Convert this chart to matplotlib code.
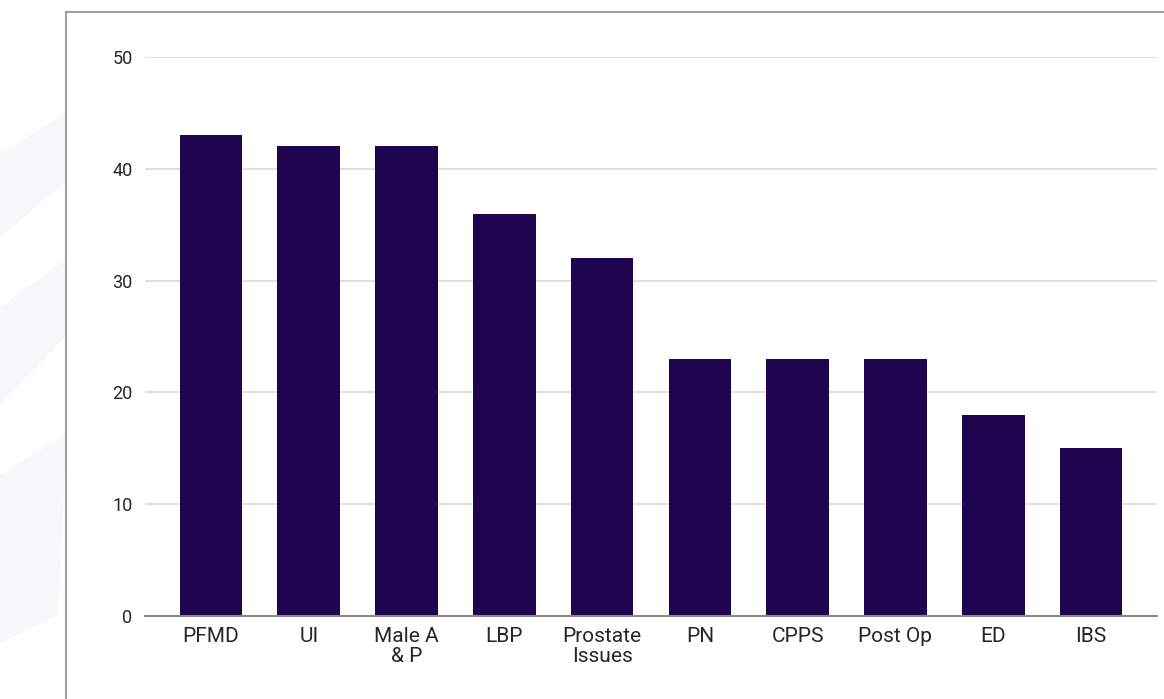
import numpy as np
import matplotlib.pyplot as plt
from matplotlib.lines import Line2D
from matplotlib.patches import Polygon

# Conditions treated and number of responses for each
categories = ['PFMD', 'UI', 'Male A\n& P', 'LBP', 'Prostate\nIssues',
              'PN', 'CPPS', 'Post Op', 'ED', 'IBS']
counts = [43, 42, 42, 36, 32, 23, 23, 23, 18, 15]
y_ticks = [0, 10, 20, 30, 40, 50]

plt.rcParams['font.family'] = ['Roboto', 'DejaVu Sans']

fig = plt.figure(figsize=(11.64, 6.99), dpi=100)
fig.patch.set_facecolor('white')

# faint diagonal bands at the left edge
bands = [
    [(0.0, 0.66), (0.057, 0.74), (0.057, 0.84), (0.0, 0.78)],
    [(0.0, 0.42), (0.057, 0.52), (0.057, 0.63), (0.0, 0.56)],
    [(0.0, 0.08), (0.05, 0.12), (0.057, 0.38), (0.0, 0.32)],
]
for pts in bands:
    fig.add_artist(Polygon(pts, closed=True, transform=fig.transFigure,
                           facecolor='#f8f8fa', edgecolor='none', zorder=0))

# frame around the chart panel
fig.add_artist(Line2D([66 / 1164, 66 / 1164], [0, 1 - 12 / 699],
                      transform=fig.transFigure, color='#9a9a9a', lw=1.4))
fig.add_artist(Line2D([66 / 1164, 1], [1 - 12 / 699, 1 - 12 / 699],
                      transform=fig.transFigure, color='#9a9a9a', lw=1.4))

ax = fig.add_axes([145 / 1164, 1 - 616 / 699, (1157 - 145) / 1164, (616 - 57) / 699])
ax.set_facecolor('none')

x = np.arange(len(categories))
ax.bar(x, counts, width=0.64, color='#1f0450', zorder=3)

ax.set_xlim(-0.675, len(categories) - 1 + 0.675)
ax.set_ylim(0, 50)
ax.set_yticks(y_ticks)
ax.set_yticklabels([str(v) for v in y_ticks])
ax.set_xticks(x)
ax.set_xticklabels(categories, linespacing=1.05)

ax.grid(axis='y', color='#dadada', lw=1.2, zorder=0)
ax.grid(axis='x', visible=False)
for side in ['top', 'right', 'left']:
    ax.spines[side].set_visible(False)
ax.spines['bottom'].set_color('#8a8a8a')
ax.spines['bottom'].set_linewidth(1.5)
ax.spines['bottom'].set_zorder(4)

ax.tick_params(axis='y', length=0, pad=9, labelsize=13, labelcolor='#262626')
ax.tick_params(axis='x', length=0, pad=8, labelsize=15, labelcolor='#262626')

fig.savefig('out.png', dpi=100)
